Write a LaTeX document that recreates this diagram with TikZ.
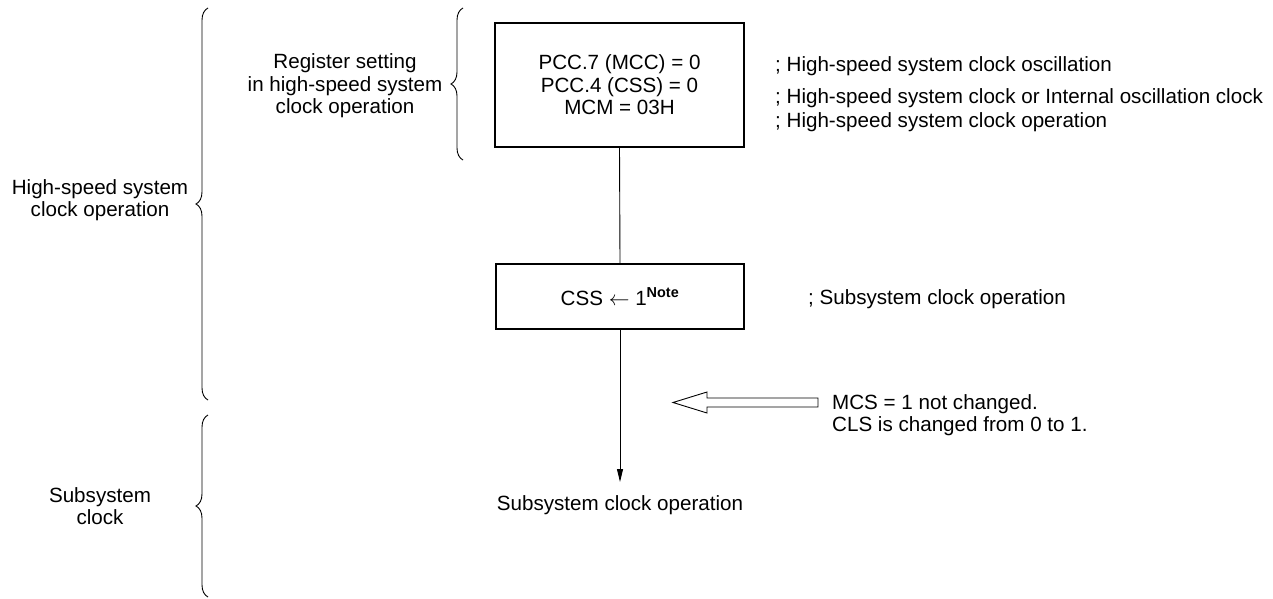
\documentclass[tikz,border=0pt]{standalone}
\usepackage{fontspec}
\setmainfont{Liberation Sans}
\usetikzlibrary{arrows.meta,decorations.pathreplacing}
\begin{document}
\begin{tikzpicture}[x=1pt,y=-1pt,
  txt/.style={font=\fontsize{20.6}{22.5}\selectfont, inner sep=0pt, align=center},
  ltxt/.style={font=\fontsize{20.6}{22.5}\selectfont, inner sep=0pt, anchor=base west},
  box/.style={draw, line width=2pt, inner sep=0pt, font=\fontsize{20.6}{22.5}\selectfont, align=center},
  conn/.style={line width=0.9pt},
  brc/.style={line width=0.9pt, decorate, decoration={brace, amplitude=12pt, aspect=0.5}}
]
\useasboundingbox (0,0) rectangle (1273,599);

% braces
\coordinate (b1t) at (208,8);
\coordinate (b1b) at (208,400);
\coordinate (b2t) at (208,415);
\coordinate (b2b) at (208,597);
\coordinate (b3t) at (463,8);
\coordinate (b3b) at (463,160);
\draw[brc] (b1b) -- (b1t);
\draw[brc] (b2b) -- (b2t);
\draw[brc] (b3b) -- (b3t);

% left labels
\node[txt] (hs) at (100,200) {High-speed system\\clock operation};
\node[txt] (sc) at (100,506) {Subsystem\\clock};
\node[txt] (rs) at (345,86) {Register setting\\in high-speed system\\clock operation};

% boxes
\node[box, minimum width=249pt, minimum height=124pt] (box1) at (619.5,85)
  {PCC.7 (MCC) = 0\\PCC.4 (CSS) = 0\\MCM = 03H};
\node[box, minimum width=248pt, minimum height=65pt] (box2) at (620,296.5)
  {CSS $\leftarrow$ 1\textsuperscript{\bfseries Note}};
\node[txt] (end) at (620,505) {Subsystem clock operation};
\coordinate (tip) at (620,482);

% connectors
\draw[conn] (box1.south) -- (box2.north);
\draw[conn, -{Triangle[width=6pt,length=13pt]}] (box2.south) -- (tip);

% comments
\node[ltxt] (c1) at (775,72) {; High-speed system clock oscillation};
\node[ltxt] (c2) at (775,104) {; High-speed system clock or Internal oscillation clock};
\node[ltxt] (c3) at (775,128) {; High-speed system clock operation};
\node[ltxt] (c4) at (808,304) {; Subsystem clock operation};
\node[ltxt] (m1) at (832,409) {MCS = 1 not changed.};
\node[ltxt] (m2) at (832,431) {CLS is changed from 0 to 1.};

% hollow arrow
\draw[line width=0.9pt] (818,398) -- (707,398) -- (707,392) -- (673,402.5) -- (707,413) -- (707,407) -- (818,407) -- cycle;
\end{tikzpicture}
\end{document}
